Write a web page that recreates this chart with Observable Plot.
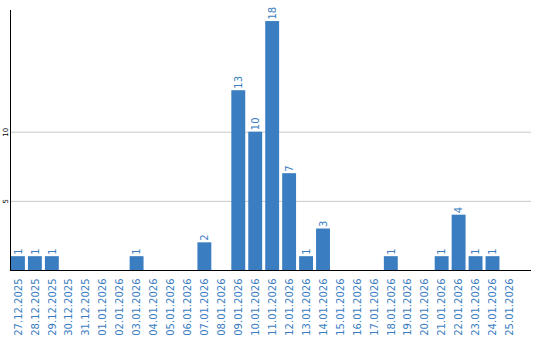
<!DOCTYPE html>
<html>
<head>
<meta charset="utf-8">
<script src="https://cdn.jsdelivr.net/npm/d3@7"></script>
<script src="https://cdn.jsdelivr.net/npm/@observablehq/plot@0.6"></script>
<style>
  html, body { margin: 0; padding: 0; background: #fff; }
  #chart { width: 540px; height: 340px; }
</style>
</head>
<body>
<div id="chart"></div>
<script>
const dates = ["27.12.2025","28.12.2025","29.12.2025","30.12.2025","31.12.2025","01.01.2026","02.01.2026","03.01.2026","04.01.2026","05.01.2026","06.01.2026","07.01.2026","08.01.2026","09.01.2026","10.01.2026","11.01.2026","12.01.2026","13.01.2026","14.01.2026","15.01.2026","16.01.2026","17.01.2026","18.01.2026","19.01.2026","20.01.2026","21.01.2026","22.01.2026","23.01.2026","24.01.2026","25.01.2026"];
const counts = [1,1,1,0,0,0,0,1,0,0,0,2,0,13,10,18,7,1,3,0,0,0,1,0,0,1,4,1,1,0];
const yTicks = [5, 10];

const data = dates.map((d, i) => ({date: d, value: counts[i]}));
const blue = "#3a7dc1";

const leftAxisLine = (index, scales, values, dimensions) => {
  const {marginLeft, marginTop, height, marginBottom} = dimensions;
  const line = document.createElementNS("http://www.w3.org/2000/svg", "line");
  line.setAttribute("x1", marginLeft + 0.5);
  line.setAttribute("x2", marginLeft + 0.5);
  line.setAttribute("y1", marginTop);
  line.setAttribute("y2", height - marginBottom);
  line.setAttribute("stroke", "#000");
  return line;
};

const chart = Plot.plot({
  width: 540,
  height: 340,
  marginLeft: 10,
  marginRight: 9,
  marginTop: 10,
  marginBottom: 70,
  style: {fontFamily: "DejaVu Sans", background: "#fff"},
  x: {domain: dates, range: [11, 516.4], paddingInner: 0.18, paddingOuter: 0, align: 0, round: false},
  y: {domain: [0, 18.8], range: [270, 10], axis: null},
  marks: [
    Plot.ruleY(yTicks, {stroke: "#c8c8c8", strokeWidth: 1}),
    Plot.barY(data, {x: "date", y: "value", fill: blue}),
    Plot.text(data.filter(d => d.value > 0), {
      x: "date", y: "value", text: d => String(d.value),
      rotate: -90, textAnchor: "start", dy: -2, fill: blue, fontSize: 10
    }),
    Plot.ruleY([0], {stroke: "#000"}),
    leftAxisLine,
    Plot.axisX({tickSize: 0, tickPadding: 8, tickRotate: -90, fill: blue, fontSize: 10, label: null}),
    Plot.text(yTicks, {
      y: d => d, text: d => String(d), frameAnchor: "left", dx: -5,
      rotate: -90, textAnchor: "middle", fill: "#000", fontSize: 7
    })
  ]
});
document.getElementById("chart").appendChild(chart);
</script>
</body>
</html>
